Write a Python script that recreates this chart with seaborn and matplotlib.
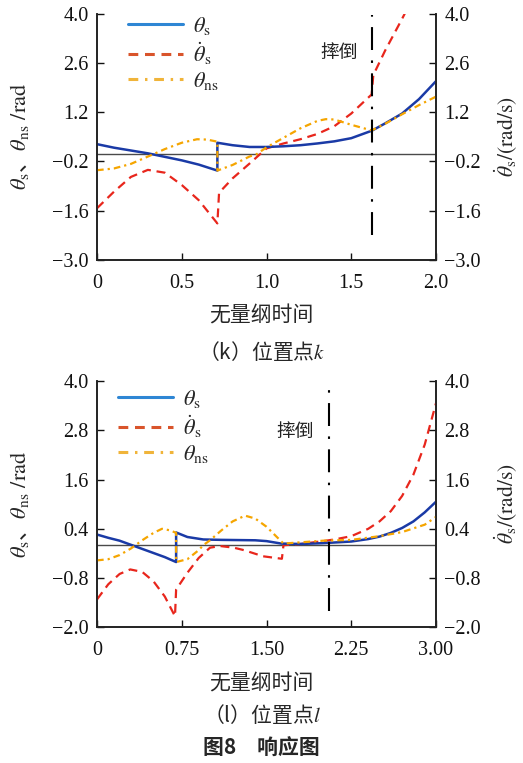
import numpy as np
import pandas as pd
import matplotlib
matplotlib.use("Agg")
import matplotlib.pyplot as plt
import seaborn as sns
from matplotlib.lines import Line2D

sns.set_theme(style="ticks")
plt.rcParams['font.family'] = ['Liberation Serif', 'Noto Sans CJK SC']
plt.rcParams['mathtext.fontset'] = 'stix'

# ---------------- data: panel (k) ----------------
k_xs = [0, 0.1, 0.2, 0.3, 0.4, 0.5, 0.6, 0.71, 0.71, 0.8, 0.9, 1.0, 1.1, 1.2,
        1.3, 1.4, 1.5, 1.62, 1.7, 1.8, 1.9, 2.0]
k_theta_s = [0.29, 0.19, 0.11, 0.03, -0.07, -0.17, -0.29, -0.46, 0.33, 0.26,
             0.21, 0.21, 0.23, 0.26, 0.31, 0.37, 0.46, 0.67, 0.88, 1.16, 1.57, 2.08]

k_xns = [0, 0.1, 0.2, 0.33, 0.4, 0.5, 0.59, 0.65, 0.71, 0.71, 0.8, 0.9, 0.94,
         1.0, 1.1, 1.2, 1.3, 1.35, 1.4, 1.5, 1.62, 1.7, 1.8, 1.9, 2.0]
k_theta_ns = [-0.45, -0.40, -0.27, 0.0, 0.15, 0.33, 0.43, 0.42, 0.36, -0.46,
              -0.30, -0.06, 0.0, 0.20, 0.47, 0.74, 0.95, 1.0, 0.99, 0.84, 0.68,
              0.87, 1.14, 1.40, 1.64]

k_xd = [0, 0.1, 0.2, 0.3, 0.4, 0.5, 0.6, 0.71, 0.72, 0.8, 0.9, 1.0, 1.1, 1.2,
        1.3, 1.4, 1.5, 1.6, 1.62, 1.63, 1.7, 1.8, 1.9, 2.0]
k_dtheta_s = [-1.53, -1.06, -0.64, -0.44, -0.52, -0.87, -1.30, -1.96, -1.09,
              -0.68, -0.26, 0.17, 0.31, 0.43, 0.58, 0.80, 1.16, 1.61, 1.70,
              2.25, 2.95, 3.85, 4.8, 5.8]
k_fall = 1.62

# ---------------- data: panel (l) ----------------
l_xs = [0, 0.1, 0.2, 0.31, 0.4, 0.5, 0.6, 0.70, 0.70, 0.8, 0.94, 1.1, 1.4,
        1.5, 1.63, 1.8, 2.0, 2.25, 2.4, 2.5, 2.6, 2.7, 2.8, 2.9, 3.0]
l_theta_s = [0.26, 0.18, 0.11, 0.0, -0.09, -0.19, -0.29, -0.41, 0.31, 0.20,
             0.14, 0.13, 0.12, 0.10, 0.04, 0.03, 0.05, 0.09, 0.15, 0.21, 0.30,
             0.42, 0.58, 0.80, 1.06]

l_xns = [0, 0.1, 0.2, 0.3, 0.34, 0.4, 0.5, 0.575, 0.65, 0.70, 0.70, 0.8, 0.9,
         0.94, 1.0, 1.1, 1.2, 1.31, 1.4, 1.5, 1.65, 1.8, 2.0, 2.25, 2.5, 2.7,
         2.9, 3.0]
l_theta_ns = [-0.37, -0.34, -0.24, -0.08, 0.0, 0.12, 0.30, 0.40, 0.36, 0.30,
              -0.41, -0.34, -0.12, 0.0, 0.12, 0.36, 0.58, 0.72, 0.65, 0.45,
              0.04, 0.07, 0.11, 0.13, 0.22, 0.32, 0.50, 0.69]

l_xd = [0, 0.1, 0.2, 0.294, 0.4, 0.5, 0.6, 0.69, 0.70, 0.8, 0.9, 1.0, 1.09,
        1.21, 1.3, 1.47, 1.636, 1.65, 1.8, 2.0, 2.1, 2.25, 2.4, 2.5, 2.6, 2.7,
        2.8, 2.9, 3.0]
l_dtheta_s = [-1.32, -0.95, -0.70, -0.59, -0.65, -0.88, -1.25, -1.73, -1.08,
              -0.67, -0.31, -0.06, -0.02, -0.06, -0.12, -0.27, -0.33, 0.0,
              0.03, 0.10, 0.14, 0.22, 0.40, 0.58, 0.83, 1.20, 1.72, 2.45, 3.46]
l_fall = 2.05

C_BLUE, C_RED, C_ORG = '#1a3aa6', '#e8261c', '#f5a500'
L_BLUE, L_RED, L_ORG = '#2e86d4', '#d9542b', '#f0b43a'
DASH_RED = (0, (4.0, 2.6))
DASH_ORG = (0, (3.0, 1.8, 1.0, 1.8))
DASH_FALL = (0, (11, 5, 1.2, 5))

fig = plt.figure(figsize=(5.23, 7.63), dpi=100)
ax1 = fig.add_axes([0.1855, 0.6592, 0.6482, 0.3231])
ax2 = fig.add_axes([0.1855, 0.1778, 0.6482, 0.3229])

fs = 14.5
fs_cjk = 15
CJK = ['Noto Sans CJK SC', 'Liberation Serif']


def fmt(v):
    return '\u2212' + f'{abs(v):.1f}' if v < 0 else f'{v:.1f}'


def panel(ax, xs, ts, xns, tns, xd, td, fall, xlim, ylim, yticks, xticks,
          xticklabels, label_xy, legend_xy, fall_ymin):
    ax.axhline(0, color='#4a4a4a', lw=1.0, zorder=1)
    sns.lineplot(x=xd, y=td, ax=ax, estimator=None, sort=False, color=C_RED,
                 lw=1.6, linestyle=DASH_RED, zorder=3)
    sns.lineplot(x=xs, y=ts, ax=ax, estimator=None, sort=False, color=C_BLUE,
                 lw=1.8, zorder=4)
    sns.lineplot(x=xns, y=tns, ax=ax, estimator=None, sort=False, color=C_ORG,
                 lw=1.6, linestyle=DASH_ORG, zorder=5)
    ax.plot([fall, fall], [fall_ymin, ylim[1] - 0.05], color='black', lw=1.5,
            linestyle=DASH_FALL, zorder=6)
    ax.text(label_xy[0], label_xy[1], '摔倒', fontsize=13.5, family=CJK,
            ha='center', va='center', color='#222222')
    ax.set_xlim(*xlim)
    ax.set_ylim(*ylim)
    ax.set_yticks(yticks)
    ax.set_yticklabels([fmt(v) for v in yticks])
    ax.set_xticks(xticks)
    ax.set_xticklabels(xticklabels)
    ax.tick_params(direction='in', length=5, width=1.0, labelsize=fs,
                   colors='#111111', pad=6)
    ax.tick_params(axis='x', pad=10)
    for s in ax.spines.values():
        s.set_linewidth(1.2)
        s.set_color('#222222')
    ax.spines['top'].set_visible(False)
    ax.set_xlabel('')
    ax.set_ylabel(r'$\theta_{\mathrm{s}}$、$\theta_{\mathrm{ns}}\ /\mathrm{rad}$',
                  fontsize=fs + 1.5, family=CJK, labelpad=15)
    axr = ax.twinx()
    axr.set_ylim(*ylim)
    axr.set_yticks(yticks)
    axr.set_yticklabels([fmt(v) for v in yticks])
    axr.tick_params(direction='in', length=5, width=1.0, labelsize=fs,
                    colors='#111111', pad=6)
    for s in axr.spines.values():
        s.set_linewidth(1.2)
        s.set_color('#222222')
    axr.spines['top'].set_visible(False)
    axr.set_ylabel(r'$\dot{\theta}_{\mathrm{s}}\mathrm{/(rad/s)}$',
                   fontsize=fs + 1, labelpad=8)
    handles = [Line2D([], [], color=L_BLUE, lw=2.2),
               Line2D([], [], color=L_RED, lw=2.2, linestyle=(0, (3.2, 2.2))),
               Line2D([], [], color=L_ORG, lw=2.2, linestyle=(0, (3.2, 2.2, 0.8, 2.2)))]
    labels = [r'$\theta_{\mathrm{s}}$', r'$\dot{\theta}_{\mathrm{s}}$',
              r'$\theta_{\mathrm{ns}}$']
    ax.legend(handles, labels, loc='upper left', frameon=False,
              bbox_to_anchor=legend_xy, fontsize=fs + 1.5,
              handlelength=2.5, handletextpad=0.45, labelspacing=0.14,
              borderaxespad=0.3)
    return axr


panel(ax1, k_xs, k_theta_s, k_xns, k_theta_ns, k_xd, k_dtheta_s, k_fall,
      (0, 2.0), (-3.0, 4.0), [-3.0, -1.6, -0.2, 1.2, 2.6, 4.0],
      [0, 0.5, 1.0, 1.5, 2.0], ['0', '0.5', '1.0', '1.5', '2.0'],
      (1.43, 2.88), (0.045, 1.058), -2.3)
panel(ax2, l_xs, l_theta_s, l_xns, l_theta_ns, l_xd, l_dtheta_s, l_fall,
      (0, 3.0), (-2.0, 4.0), [-2.0, -0.8, 0.4, 1.6, 2.8, 4.0],
      [0, 0.75, 1.5, 2.25, 3.0], ['0', '0.75', '1.50', '2.25', '3.00'],
      (1.75, 2.77), (0.015, 1.035), -1.6)

fig.text(0.5, 1 - 316 / 763, '无量纲时间', ha='center', va='center',
         fontsize=fs_cjk, family=CJK)
fig.text(0.5, 1 - 352 / 763, '（k）位置点$k$', ha='center', va='center',
         fontsize=fs_cjk, family=CJK)
fig.text(0.5, 1 - 684 / 763, '无量纲时间', ha='center', va='center',
         fontsize=fs_cjk, family=CJK)
fig.text(0.5, 1 - 715 / 763, '（l）位置点$l$', ha='center', va='center',
         fontsize=fs_cjk, family=CJK)
fig.text(0.5, 1 - 748 / 763, '图8　响应图', ha='center', va='center',
         fontsize=fs_cjk, family=CJK, weight='bold')

fig.savefig('out.png', dpi=100)
